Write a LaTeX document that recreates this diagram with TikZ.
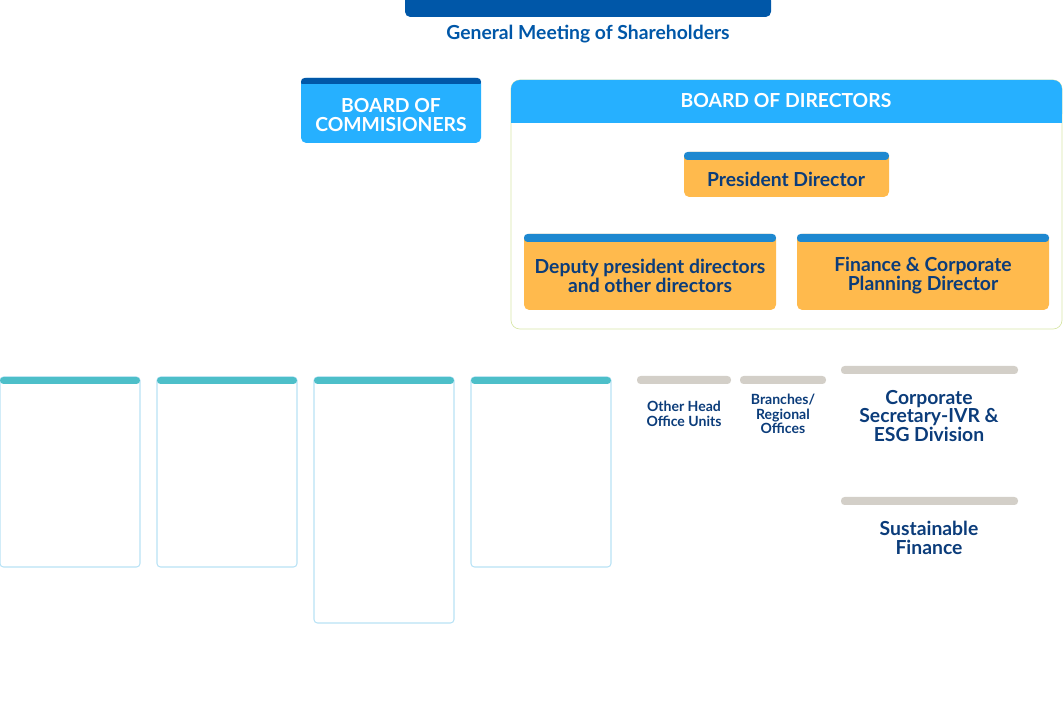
\documentclass[tikz,border=0pt]{standalone}
\usepackage{fontspec}
\setmainfont{Lato}
\definecolor{navy}{HTML}{0057A8}
\definecolor{sky}{HTML}{26B0FF}
\definecolor{strip}{HTML}{1E88D0}
\definecolor{amber}{HTML}{FFBA4D}
\definecolor{inktext}{HTML}{0B3C7A}
\definecolor{teal}{HTML}{4DBFC9}
\definecolor{tabgray}{HTML}{D3CFC8}
\definecolor{paleline}{HTML}{B8E2F5}
\definecolor{olive}{HTML}{D8E6A8}
\tikzset{
  lbl/.style={font=\bfseries\fontsize{11}{10.8}\selectfont, text=inktext, align=center},
  wlbl/.style={font=\bfseries\fontsize{11}{10.8}\selectfont, text=white, align=center},
  tiny/.style={font=\bfseries\fontsize{8}{8.4}\selectfont},
  card/.style={draw=paleline, line width=.6pt, rounded corners=2pt},
}
\begin{document}
\begin{tikzpicture}[x=0.02cm,y=-0.02cm]
    \useasboundingbox (0,0) rectangle (1063,709);
    % shareholders
    \fill[navy, rounded corners=3pt] (405,-5) rectangle (771,17);
    \node[lbl, text=navy] (gms) at (588,34) {General Meeting of Shareholders};
    % commissioners
    \fill[sky, rounded corners=3pt] (301,78) rectangle (481,143);
    \fill[navy, rounded corners=2pt] (301,78) rectangle (481,86);
    \fill[sky] (301,84) rectangle (481,87);
    \node[wlbl] (boc) at (391,115) {BOARD OF\\COMMISIONERS};
    % directors
    \draw[olive, rounded corners=5pt] (511,80) rectangle (1062,329);
    \fill[sky, rounded corners=5pt] (511,80) rectangle (1062,123);
    \fill[sky] (511,110) rectangle (1062,123);
    \node[wlbl] (bod) at (786,101) {BOARD OF DIRECTORS};
    \foreach \xa/\ya/\xb/\yb in {684/152/889/197, 524/234/776/310, 797/234/1049/310}{
      \fill[amber, rounded corners=3pt] (\xa,\ya) rectangle (\xb,\yb);
      \fill[strip, rounded corners=2pt] (\xa,\ya) rectangle (\xb,\ya+8);
    }
    \node[lbl] (pd) at (786,179) {President Director};
    \node[lbl] (dpd) at (650,276) {Deputy president directors\\and other directors};
    \node[lbl] (fcp) at (923,276) {Finance \& Corporate\\Planning Director};
    % teal cards
    \foreach \xa/\yb in {0/567, 157/567, 314/623, 471/567}{
      \draw[card] (\xa,377) rectangle (\xa+140,\yb);
      \fill[teal, rounded corners=2pt] (\xa,377) rectangle (\xa+140,384);
    }
    % gray tabs
    \fill[tabgray, rounded corners=2pt] (637,376) rectangle (731,384);
    \fill[tabgray, rounded corners=2pt] (740,376) rectangle (826,384);
    \fill[tabgray, rounded corners=2pt] (841,366) rectangle (1018,374);
    \fill[tabgray, rounded corners=2pt] (841,497) rectangle (1018,505);
    \node[lbl, tiny] (ohu) at (684,414) {Other Head\\Office Units};
    \node[lbl, tiny] (bro) at (783,414) {Branches/\\Regional\\Offices};
    \node[lbl] (csd) at (929,416) {Corporate\\Secretary-IVR \&\\ESG Division};
    \node[lbl] (sf) at (929,538) {Sustainable\\Finance};
\end{tikzpicture}
\end{document}
